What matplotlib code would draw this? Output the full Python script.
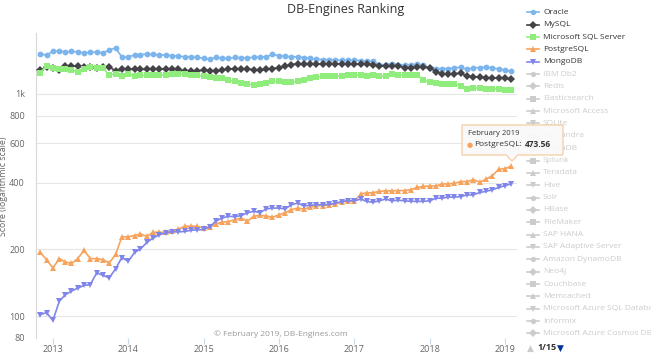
import numpy as np
import pandas as pd
import matplotlib
matplotlib.use("Agg")
import matplotlib.pyplot as plt
import matplotlib.dates as mdates
from matplotlib.lines import Line2D
from matplotlib.patches import Polygon

plt.rcParams["font.family"] = ["Open Sans", "DejaVu Sans"]

# =========================
# Data (monthly scores, Nov 2012 .. Feb 2019)
# =========================
months = pd.date_range("2012-11-01", periods=76, freq="MS")

oracle = [1520, 1490, 1560, 1560, 1545, 1555, 1545, 1530, 1538, 1545, 1532, 1578, 1612,
          1465, 1465, 1500, 1500, 1510, 1505, 1500, 1496, 1487, 1478, 1470, 1465, 1461,
          1445, 1432, 1460, 1445, 1445, 1460, 1455, 1455, 1460, 1465, 1470, 1506, 1487,
          1478, 1470, 1470, 1455, 1445, 1432, 1428, 1428, 1419, 1419,
          1419, 1419, 1412, 1405, 1405, 1355, 1355, 1370, 1355, 1349, 1355, 1360, 1349,
          1310, 1300, 1300, 1300, 1310, 1320, 1290, 1310, 1315, 1320, 1310, 1295, 1282, 1264.02]

mysql = [1282, 1320, 1310, 1282, 1335, 1340, 1335, 1320, 1320, 1310, 1320, 1325, 1270,
         1295, 1290, 1290, 1290, 1290, 1295, 1295, 1290, 1290, 1290, 1272, 1272, 1270,
         1282, 1275, 1270, 1278, 1294, 1300, 1290, 1294, 1286, 1282, 1290, 1300, 1315,
         1330, 1355, 1370, 1360, 1360, 1365, 1360, 1365, 1365, 1365,
         1360, 1360, 1360, 1360, 1355, 1335, 1335, 1338, 1335, 1315, 1312, 1320, 1320,
         1312, 1262, 1232, 1232, 1232, 1240, 1200, 1195, 1192, 1185, 1180, 1178, 1175, 1167.29]

mssql = [1248, 1340, 1305, 1300, 1300, 1280, 1262, 1290, 1320, 1310, 1310, 1215, 1235,
         1210, 1225, 1210, 1215, 1212, 1215, 1215, 1222, 1235, 1235, 1225, 1218, 1215,
         1200, 1192, 1185, 1175, 1150, 1140, 1117, 1110, 1097, 1105, 1117, 1140, 1140,
         1135, 1130, 1140, 1157, 1175, 1190, 1200, 1200, 1200, 1205,
         1217, 1217, 1212, 1210, 1212, 1200, 1200, 1232, 1217, 1212, 1212, 1212, 1157,
         1128, 1117, 1110, 1110, 1110, 1088, 1058, 1062, 1065, 1058, 1058, 1050, 1045, 1040.34]

postgres = [194, 180, 165, 182, 176, 173, 182, 198, 182, 182, 180, 174, 190,
            228, 228, 231, 235, 229, 239, 239, 239, 242, 247, 254, 255, 254,
            250, 252, 261, 265, 267, 272, 277, 268, 282, 285, 283, 279, 286,
            293, 302, 307, 304, 310, 314, 315, 318, 320, 327,
            329, 329, 356, 359, 360, 365, 367, 367, 368, 368, 371, 380, 384,
            386, 386, 394, 394, 397, 404, 404, 412, 401, 414, 430, 458, 462, 473.56]

mongodb = [102, 104, 96, 117, 125, 130, 134, 138, 139, 157, 153, 149, 164,
           184, 177, 194, 201, 215, 225, 233, 237, 240, 240, 241, 244, 245,
           246, 253, 268, 277, 282, 281, 284, 292, 297, 293, 304, 307, 307,
           304, 318, 323, 314, 316, 318, 318, 319, 323, 328,
           332, 331, 337, 329, 326, 331, 337, 331, 333, 331, 329, 329, 329,
           331, 340, 340, 344, 344, 346, 352, 352, 361, 365, 371, 380, 387, 395.09]

series_names = ["Oracle", "MySQL", "Microsoft SQL Server", "PostgreSQL", "MongoDB"]
series_data = [oracle, mysql, mssql, postgres, mongodb]
series_colors = ["#7cb5ec", "#434348", "#90ed7d", "#f7a35c", "#8085e9"]
hidden_names = ["IBM Db2", "Redis", "Elasticsearch", "Microsoft Access", "SQLite",
                "Cassandra", "MariaDB", "Splunk", "Teradata", "Hive", "Solr", "HBase",
                "FileMaker", "SAP HANA", "SAP Adaptive Server", "Amazon DynamoDB",
                "Neo4j", "Couchbase", "Memcached", "Microsoft Azure SQL Database",
                "Informix", "Microsoft Azure Cosmos DB"]
symbols = ["o", "D", "s", "^", "v"]

y_ticks = [80, 100, 200, 400, 600, 800, 1000]
y_ticklabels = ["80", "100", "200", "400", "600", "800", "1k"]
x_years = [2013, 2014, 2015, 2016, 2017, 2018, 2019]

# =========================
# Figure
# =========================
W, H = 651, 356
fig = plt.figure(figsize=(W / 100, H / 100), dpi=100)


def fx(px):
    return px / W


def fy(py):
    return 1 - py / H


ax = fig.add_axes([fx(36), fy(338), fx(517) - fx(36), fy(33) - fy(338)])
ax.set_yscale("log")

for name, vals, col, sym in zip(series_names, series_data, series_colors, symbols):
    ms = 4.2 if sym in ("o", "s") else (3.8 if sym == "D" else 4.6)
    ax.plot(months, vals, color=col, lw=1.2, marker=sym, ms=ms,
            markeredgewidth=0, label=name, zorder=3)

ax.set_ylim(80, 1880)
ax.set_xlim(pd.Timestamp("2012-10-11"), pd.Timestamp("2019-02-28"))

ax.set_yticks(y_ticks)
ax.set_yticklabels(y_ticklabels)
ax.yaxis.set_minor_locator(matplotlib.ticker.NullLocator())
ax.set_xticks([pd.Timestamp(f"{y}-01-01") for y in x_years])
ax.xaxis.set_major_formatter(mdates.DateFormatter("%Y"))

ax.tick_params(axis="y", length=0, labelsize=6.5, labelcolor="#666666", pad=8)
ax.tick_params(axis="x", length=4, width=0.8, color="#ccd6eb",
               labelsize=6.5, labelcolor="#666666", pad=1)
ax.grid(axis="y", color="#e6e6e6", lw=0.8)
ax.set_axisbelow(True)
for s in ["top", "right", "bottom"]:
    ax.spines[s].set_visible(False)
ax.spines["left"].set_color("#d8d8d8")
ax.spines["left"].set_linewidth(0.8)

# titles / credits
fig.text(fx(346), fy(10), "DB-Engines Ranking", ha="center", va="center",
         fontsize=9, color="#333333")
fig.text(fx(4), fy(186), "Score (logarithmic scale)", rotation=90,
         ha="center", va="center", fontsize=6.3, color="#666666")
fig.text(fx(348), fy(334), "\u00a9 February 2019, DB-Engines.com", ha="right",
         va="center", fontsize=6, color="#999999")

# ── Legend (drawn by hand in pixel positions) ─────────────────
legend_names = series_names + hidden_names
for k, name in enumerate(legend_names):
    yk = 12.3 + 12.35 * k
    col = series_colors[k] if k < 5 else "#cccccc"
    tcol = "#333333" if k < 5 else "#cccccc"
    sym = symbols[k % 5]
    fig.add_artist(Line2D([fx(527), fx(539)], [fy(yk), fy(yk)], color=col, lw=1.2,
                          transform=fig.transFigure))
    fig.add_artist(Line2D([fx(533)], [fy(yk)], color=col, marker=sym, ms=3.8,
                          markeredgewidth=0, transform=fig.transFigure))
    fig.text(fx(543), fy(yk), name, ha="left", va="center", fontsize=6,
             color=tcol)

fig.text(fx(527), fy(348), "\u25b2", ha="left", va="center", fontsize=6.5,
         color="#cccccc", family=["DejaVu Sans"])
fig.text(fx(537), fy(348), "1/15", ha="left", va="center", fontsize=6.5,
         color="#333333", fontweight="bold")
fig.text(fx(557), fy(348), "\u25bc", ha="left", va="center", fontsize=6.5,
         color="#003399", family=["DejaVu Sans"])

# ── Tooltip on last PostgreSQL point ─────────────────────────
tip = [(462, 125), (563, 125), (563, 155), (518, 155), (512, 161), (506, 155), (462, 155)]
fig.add_artist(Polygon([(fx(a), fy(b)) for a, b in tip], closed=True,
                       facecolor="#f9f9f9", edgecolor="#f7c9a0", lw=0.9,
                       alpha=0.95, transform=fig.transFigure, zorder=10))
fig.text(fx(468), fy(134), "February 2019", ha="left", va="center",
         fontsize=5.5, color="#333333", zorder=11)
fig.text(fx(467), fy(145), "\u25cf", ha="left", va="center", fontsize=5,
         color="#f7a35c", zorder=11, family=["DejaVu Sans"])
t1 = fig.text(fx(474), fy(145), "PostgreSQL:", ha="left", va="center",
              fontsize=6, color="#333333", zorder=11)
fig.canvas.draw()
bb = t1.get_window_extent()
fig.text(fx(bb.x1 + 3), fy(145), "473.56", ha="left", va="center",
         fontsize=6, fontweight="bold", color="#333333", zorder=11)

fig.savefig("out.png", dpi=100)
